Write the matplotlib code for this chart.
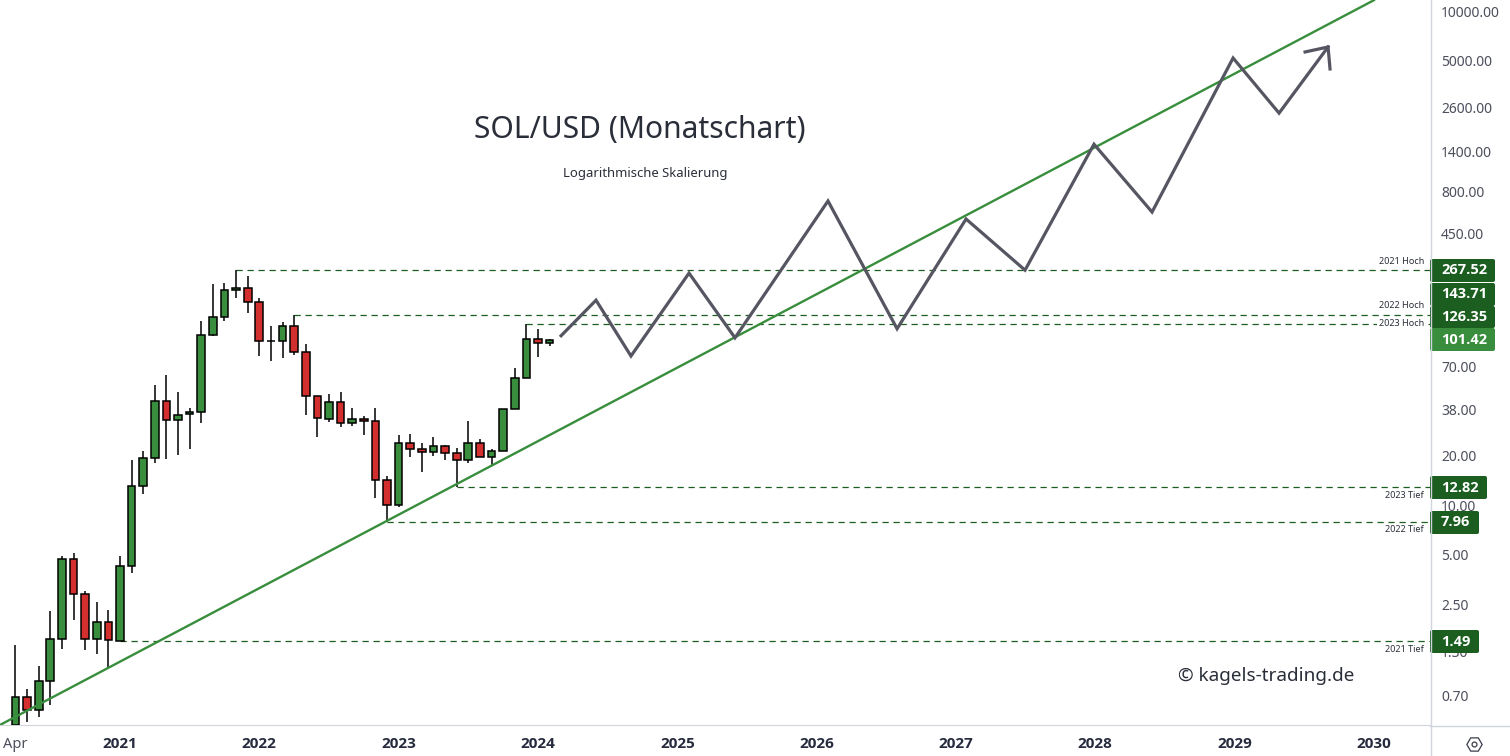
import numpy as np
import matplotlib
matplotlib.use('Agg')
import matplotlib.pyplot as plt
from matplotlib.lines import Line2D
from matplotlib.patches import FancyBboxPatch
from matplotlib.transforms import IdentityTransform

plt.rcParams['font.family'] = ['Noto Sans', 'DejaVu Sans']
BOLD = ['Open Sans', 'DejaVu Sans']

# monthly candles, index 0 = Apr 2020
opens = [0.462, 0.686, 0.57, 0.851, 1.53, 4.69, 2.88, 1.53, 1.94, 1.49, 4.25, 13.0, 19.3, 42.8, 32.8, 35.7,
         36.7, 108, 140, 202, 208, 171, 99, 99, 122, 84.9, 45.9, 33.3, 42.2, 31.4, 33.3, 32.3, 14.2, 9.99,
         23.8, 21.9, 21.0, 22.8, 20.7, 18.7, 23.8, 19.5, 21.3, 38.2, 59, 102, 96.3]
closes = [0.686, 0.57, 0.851, 1.53, 4.69, 2.88, 1.53, 1.94, 1.51, 4.25, 13.0, 19.3, 42.8, 32.8, 35.2, 36.7,
          108, 140, 202, 208, 171, 99, 99.4, 122, 84.9, 45.9, 33.7, 42.2, 31.4, 33.3, 32.3, 14.2, 9.99, 23.8,
          21.9, 21.0, 22.8, 20.7, 18.7, 23.8, 19.5, 21.3, 38.2, 59, 102, 96.3, 101.42]
highs = [1.41, 0.764, 1.05, 2.28, 4.91, 5.15, 3.01, 2.58, 2.31, 4.91, 18.8, 21.3, 53.7, 61.8, 48.7, 39.0,
         132, 221, 224, 267.52, 246, 181, 123, 130, 143.71, 95, 45.9, 47.4, 48.7, 39, 34.8, 39, 15, 26.7,
         27.1, 23.9, 26, 23.2, 22.3, 32.5, 25.2, 21.9, 38.2, 67.9, 126.35, 118, 102]
lows = [0.283, 0.484, 0.519, 0.614, 1.34, 2.02, 1.32, 1.24, 1.02, 1.49, 3.89, 11.7, 18.1, 19.2, 20.3, 22.0,
        31.7, 106, 132, 182, 148, 81, 75.5, 78.7, 82.1, 35.5, 26.1, 32, 30, 30.4, 26.8, 11, 7.96, 9.79,
        19.7, 16, 20, 18.9, 12.82, 18, 19.5, 17.3, 21.3, 59, 59, 79.8, 93.1]

trend_x = [-1.34, 117.0]
trend_y = [0.462, 11700]

path_x = [46.99, 50.0, 53.01, 58.01, 61.97, 69.98, 75.93, 81.87, 86.95, 92.89, 97.89, 104.87, 108.83, 113.05]
path_y = [107, 176, 80.6, 257, 104, 705, 118, 548, 268, 1560, 604, 5210, 2410, 6080]
head_x = [111.07, 113.05, 113.22]
head_y = [5670, 6080, 4470]

# level, first candle
level_prices = [267.52, 143.71, 126.35, 12.82, 7.96, 1.49]
level_start = [19, 24, 44, 38, 32, 9]

y_ticks = [10000, 5000, 2600, 1400, 800, 450, 70, 38, 20, 10, 5, 2.5, 1.3, 0.7]
year_ticks = [9, 21, 33, 45, 57, 69, 81, 93, 105, 117]
year_labels = ['2021', '2022', '2023', '2024', '2025', '2026', '2027', '2028', '2029', '2030']

W, H = 1510, 756
GREEN = '#388e3c'
DARK = '#1b5e20'
RED = '#d32f2f'
GRID = '#d1d4dc'
TEXT = '#4c4f5c'


def fx(x, y):
    return x / W, 1 - y / H


fig = plt.figure(figsize=(W / 100, H / 100), dpi=100, facecolor='white')
ax = fig.add_axes([0, 31 / H, 1430 / W, 725 / H])
ax.set_yscale('log')
ax.set_xlim(-1.335, 121.83)
ax.set_ylim(10 ** -0.3354, 10 ** 4.0693)

idx = np.arange(len(opens))
o = np.array(opens)
c = np.array(closes)
colors = [GREEN if b >= a else RED for a, b in zip(opens, closes)]
ax.vlines(idx, lows, highs, color='black', lw=1.1, zorder=2)
ax.bar(idx, np.abs(c - o), bottom=np.minimum(o, c), width=0.66, color=colors,
       edgecolor='black', linewidth=1.1, zorder=3)

for p, s in zip(level_prices, level_start):
    ax.plot([s, 121.83], [p, p], color=DARK, lw=0.9, dashes=(5, 3.8), zorder=1)

ax.plot(trend_x, trend_y, color=GREEN, lw=1.7, zorder=4)
ax.plot(path_x, path_y, color='#555662', lw=2.3, solid_joinstyle='miter', zorder=5)
ax.plot(head_x, head_y, color='#555662', lw=2.3, solid_joinstyle='miter', zorder=5)

ax.yaxis.tick_right()
ax.set_yticks(y_ticks)
ax.set_yticklabels(['%.2f' % v for v in y_ticks])
ax.minorticks_off()
ax.tick_params(axis='y', length=0, pad=8, labelsize=10, labelcolor=TEXT)
ax.set_xticks([0] + year_ticks)
ax.set_xticklabels(['Apr'] + year_labels)
ax.tick_params(axis='x', length=0, pad=9, labelsize=10.5, labelcolor='#262b3e')
for lab in ax.get_xticklabels()[1:]:
    lab.set_family(BOLD)
    lab.set_fontweight('bold')
    lab.set_fontsize(11)
ax.get_xticklabels()[0].set_color(TEXT)

ax.spines['top'].set_visible(False)
ax.spines['left'].set_visible(False)
ax.spines['right'].set_visible(False)
ax.spines['bottom'].set_color(GRID)

# axis lines that run past the plot area
fig.add_artist(Line2D([1430.5 / W, 1430.5 / W], [0, 1], color=GRID, lw=1))
fig.add_artist(Line2D([1430 / W, 1], [1 - 725.5 / H, 1 - 725.5 / H], color=GRID, lw=1))

fig.text(*fx(640, 130), 'SOL/USD (Monatschart)', fontsize=21.6, color='#2a2e39', ha='center', va='center')
fig.text(*fx(645, 173), 'Logarithmische Skalierung', fontsize=9.4, color='#2a2e39', ha='center', va='center')
fig.text(*fx(1266, 676), '© kagels-trading.de', fontsize=13.6, color='#2a2e39', ha='center', va='center')

notes = [('2021 Hoch', 261), ('2022 Hoch', 306), ('2023 Hoch', 324), ('2023 Tief', 495), ('2022 Tief', 530),
         ('2021 Tief', 649)]
for s, y in notes:
    bg = dict(fc='white', ec='none', pad=1) if s == '2023 Hoch' else None
    fig.text(*fx(1424, y), s, fontsize=6.5, color='#2a2e39', ha='right', va='center', bbox=bg)

# price boxes: text, right, top, bottom, fill
boxes = [('267.52', 1495, 259, 282, DARK), ('143.71', 1495, 283, 306, DARK), ('126.35', 1495, 306, 328, DARK),
         ('101.42', 1495, 328, 351, GREEN), ('12.82', 1487, 476, 499, DARK), ('7.96', 1479, 511, 534, DARK),
         ('1.49', 1479, 630, 653, DARK)]
for s, right, top, bottom, col in boxes:
    fig.add_artist(FancyBboxPatch((1430, H - bottom), right - 1430, bottom - top, boxstyle='round,pad=0,rounding_size=2',
                                  fc=col, ec='none', transform=IdentityTransform()))
    fig.text(*fx(1441, (top + bottom) / 2), s, fontsize=10.5, fontweight='bold', family=BOLD, color='white', ha='left',
             va='center')

# settings icon
fig.add_artist(Line2D([1473.5 / W], [1 - 744 / H], marker='H', ms=11, mfc='none', mec='#3a3e4a', mew=0.9, ls='none',
                      transform=fig.transFigure))
fig.add_artist(Line2D([1473.5 / W], [1 - 744 / H], marker='o', ms=3.5, mfc='none', mec='#3a3e4a', mew=0.9, ls='none',
                      transform=fig.transFigure))

fig.savefig('out.png', dpi=100)
